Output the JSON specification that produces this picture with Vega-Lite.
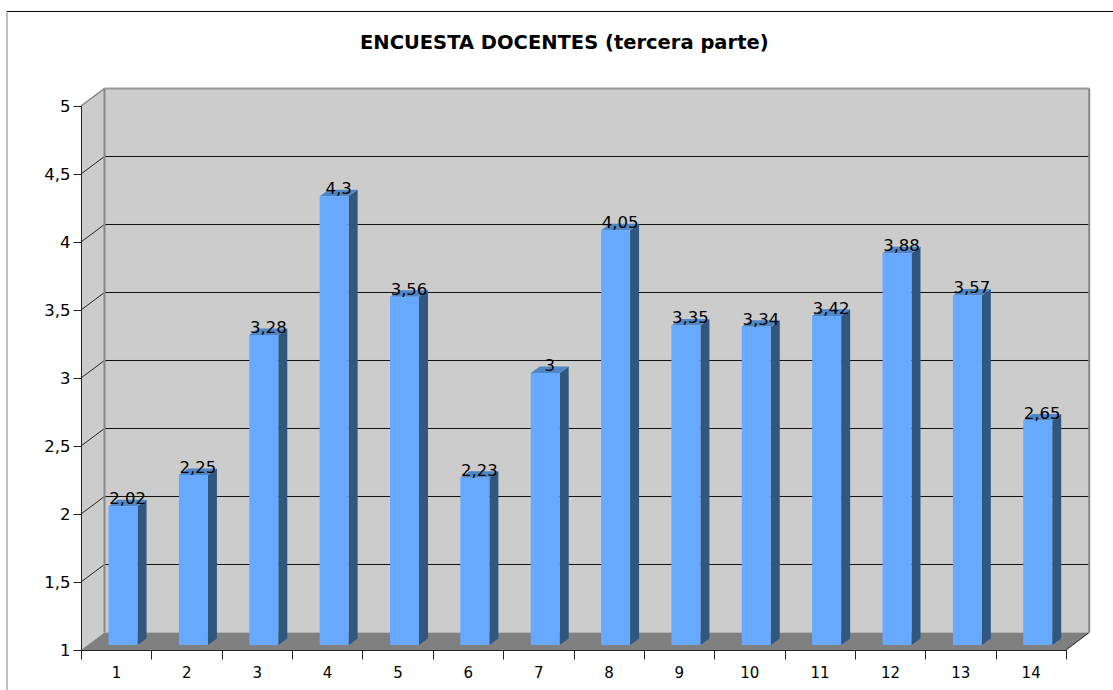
{
"$schema":"https://vega.github.io/schema/vega-lite/v6.json",
"autosize":{"type":"none"},
"padding":{"left":81,"top":106,"right":47,"bottom":40},
"width":985,"height":544,
"background":"white",
"datasets":{"scores":[
{"item":1,"value":2.02},{"item":2,"value":2.25},{"item":3,"value":3.28},{"item":4,"value":4.3},{"item":5,"value":3.56},{"item":6,"value":2.23},{"item":7,"value":3},{"item":8,"value":4.05},{"item":9,"value":3.35},{"item":10,"value":3.34},{"item":11,"value":3.42},{"item":12,"value":3.88},{"item":13,"value":3.57},{"item":14,"value":2.65}],
"levels":[{"level":1.5},{"level":2},{"level":2.5},{"level":3},{"level":3.5},{"level":4},{"level":4.5}]},
"encoding":{
"x":{"field":"a","type":"quantitative","scale":{"domain":[0.5,14.5],"nice":false,"zero":false},
"axis":{"title":null,"grid":false,"values":[0.5,1.5,2.5,3.5,4.5,5.5,6.5,7.5,8.5,9.5,10.5,11.5,12.5,13.5,14.5],"labelExpr":"datum.value<14 ? ''+(datum.value+0.5) : ''","labelOffset":35,"labelBound":false,"labelFlush":false,"labelOverlap":false,"labelFont":"DejaVu Sans","labelFontSize":15,"labelColor":"black","labelPadding":6,"tickSize":9,"tickColor":"#222222","domainColor":"#222222","zindex":1}},
"y":{"field":"b","type":"quantitative","scale":{"domain":[1,5],"nice":false,"zero":false},
"axis":{"title":null,"grid":false,"values":[1,1.5,2,2.5,3,3.5,4,4.5,5],"labelExpr":"replace(''+datum.value,'.',',')","labelFont":"DejaVu Sans","labelFontSize":16.5,"labelColor":"black","labelPadding":3,"tickSize":8,"tickColor":"#222222","domainColor":"#222222","zindex":1}}
},
"layer":[
{"data":{"values":[{"a":-0.552,"a2":15.4,"b":5.695}]},"mark":{"type":"rule","color":"black","strokeWidth":1},"encoding":{"x2":{"field":"a2"}}},
{"data":{"values":[{"a":-0.552,"b":5.695,"b2":0.7}]},"mark":{"type":"rule","color":"#808080","strokeWidth":1},"encoding":{"y2":{"field":"b2"}}},
{"data":{"values":[{"a":0.834,"a2":14.83,"b":1.1287,"b2":5.1287}]},"mark":{"type":"rect","color":"#cccccc"},"encoding":{"x2":{"field":"a2"},"y2":{"field":"b2"}}},
{"data":{"values":[{"a":0.5,"b":1,"b2":5},{"a":0.834,"b":1.1287,"b2":5.1287}]},"mark":{"type":"area","color":"#cccccc","orient":"vertical"},"encoding":{"y2":{"field":"b2"}}},
{"data":{"values":[{"a":0.5,"a2":14.5,"b":1},{"a":0.834,"a2":14.83,"b":1.1287}]},"mark":{"type":"area","color":"#808080","orient":"horizontal"},"encoding":{"x2":{"field":"a2"}}},
{"data":{"name":"levels"},"transform":[{"calculate":"0.834","as":"a"},{"calculate":"14.83","as":"a2"},{"calculate":"datum.level+0.1287","as":"b"}],"mark":{"type":"rule","color":"#111111","strokeWidth":1},"encoding":{"x2":{"field":"a2"}}},
{"data":{"name":"levels"},"transform":[{"calculate":"0.5","as":"a"},{"calculate":"0.834","as":"a2"},{"calculate":"datum.level","as":"b"},{"calculate":"datum.level+0.1287","as":"b2"}],"mark":{"type":"rule","color":"#222222","strokeWidth":1},"encoding":{"x2":{"field":"a2"},"y2":{"field":"b2"}}},
{"data":{"values":[{"a":0.5,"a2":0.834,"b":5,"b2":5.1287}]},"mark":{"type":"rule","color":"#808080","strokeWidth":1.5},"encoding":{"x2":{"field":"a2"},"y2":{"field":"b2"}}},
{"data":{"values":[{"a":14.5,"a2":14.83,"b":1,"b2":1.1287}]},"mark":{"type":"rule","color":"#222222","strokeWidth":1},"encoding":{"x2":{"field":"a2"},"y2":{"field":"b2"}}},
{"data":{"values":[{"a":0.834,"a2":14.83,"b":5.1287}]},"mark":{"type":"rule","color":"#999999","strokeWidth":2},"encoding":{"x2":{"field":"a2"}}},
{"data":{"values":[{"a":0.834,"b":1.1287,"b2":5.1287},{"a":14.83,"b":1.1287,"b2":5.1287}]},"mark":{"type":"rule","color":"#888888","strokeWidth":2},"encoding":{"y2":{"field":"b2"}}},
{"data":{"name":"scores"},"transform":[{"calculate":"[0,1]","as":"t"},{"flatten":["t"]},{"calculate":"datum.item+0.304+datum.t*0.128","as":"a"},{"calculate":"datum.value+0.0368+datum.t*0.0478","as":"b"},{"calculate":"1.0368+datum.t*0.0478","as":"b2"}],"mark":{"type":"area","color":"#31577f","orient":"vertical"},"encoding":{"y2":{"field":"b2"},"detail":{"field":"item"}}},
{"data":{"name":"scores"},"transform":[{"calculate":"[0,1]","as":"t"},{"flatten":["t"]},{"calculate":"datum.item-0.108+datum.t*0.128","as":"a"},{"calculate":"datum.item+0.304+datum.t*0.128","as":"a2"},{"calculate":"datum.value+0.0368+datum.t*0.0478","as":"b"}],"mark":{"type":"area","color":"#4f86c6","orient":"horizontal"},"encoding":{"x2":{"field":"a2"},"detail":{"field":"item"}}},
{"data":{"name":"scores"},"transform":[{"calculate":"datum.item-0.108","as":"a"},{"calculate":"datum.item+0.304","as":"a2"},{"calculate":"datum.value+0.0368","as":"b"},{"calculate":"1.0368","as":"b2"}],"mark":{"type":"rect","color":"#66a9ff"},"encoding":{"x2":{"field":"a2"},"y2":{"field":"b2"}}},
{"data":{"name":"scores"},"transform":[{"calculate":"datum.item+0.162","as":"a"},{"calculate":"datum.value+0.0368","as":"b"},{"calculate":"replace(''+datum.value,'.',',')","as":"label"}],"mark":{"type":"text","font":"DejaVu Sans","fontSize":16.5,"dy":-2,"color":"black","align":"center","baseline":"alphabetic"},"encoding":{"text":{"field":"label","type":"nominal"}}},
{"data":{"values":[{"a":7.369,"b":5.419,"label":"ENCUESTA DOCENTES (tercera parte)"}]},"mark":{"type":"text","font":"DejaVu Sans","fontSize":19.5,"fontWeight":"bold","color":"black","align":"center","baseline":"alphabetic"},"encoding":{"text":{"field":"label","type":"nominal"}}}
]
}
